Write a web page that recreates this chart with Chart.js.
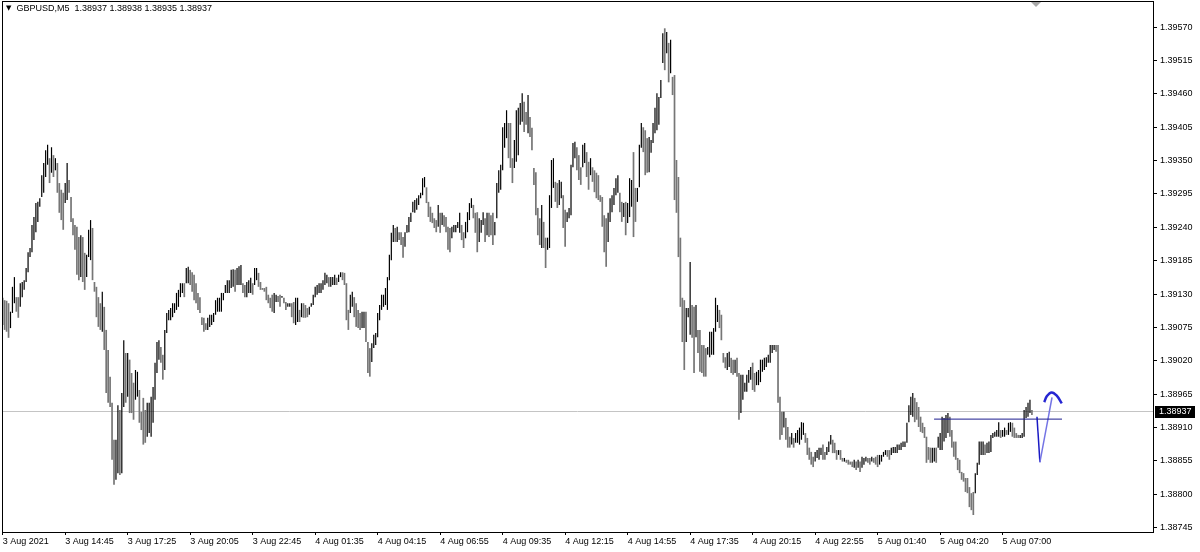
<!DOCTYPE html>
<html><head><meta charset="utf-8">
<script src="https://cdn.jsdelivr.net/npm/chart.js@4.4.1/dist/chart.umd.min.js"></script>
<style>
html,body{margin:0;padding:0;background:#fff;overflow:hidden}
#wrap{position:relative;width:1200px;height:552px}
#title{position:absolute;left:6px;top:3px;font:9px "Liberation Sans",Arial,sans-serif;color:#000;white-space:pre;pointer-events:none}
#title .tri{font-size:7px;font-family:"DejaVu Sans",sans-serif;position:relative;top:-1px}
</style></head>
<body><div id="wrap"><canvas id="c" width="1200" height="552"></canvas>
<div id="title"><span class="tri">▼</span>  GBPUSD,M5  1.38937 1.38938 1.38935 1.38937</div></div>
<script>
// ---- data (GBPUSD M5, 5-minute bars) ----
const timeLabels = ['3 Aug 2021','3 Aug 14:45','3 Aug 17:25','3 Aug 20:05','3 Aug 22:45','4 Aug 01:35','4 Aug 04:15','4 Aug 06:55','4 Aug 09:35','4 Aug 12:15','4 Aug 14:55','4 Aug 17:35','4 Aug 20:15','4 Aug 22:55','5 Aug 01:40','5 Aug 04:20','5 Aug 07:00'];
const priceTicks = [1.38745,1.38800,1.38855,1.38910,1.38965,1.39020,1.39075,1.39130,1.39185,1.39240,1.39295,1.39350,1.39405,1.39460,1.39515,1.39570];
const currentPrice = 1.38937;

const highs = [
1.39124,1.39120,1.39119,1.39115,1.39101,1.39142,1.39158,1.39125,1.39125,1.39148,
1.39150,1.39153,1.39173,1.39199,1.39206,1.39244,1.39257,1.39280,1.39282,1.39288,
1.39326,1.39346,1.39367,1.39376,1.39354,1.39372,1.39359,1.39354,1.39346,1.39313,
1.39302,1.39297,1.39313,1.39346,1.39318,1.39290,1.39255,1.39244,1.39241,1.39224,
1.39227,1.39224,1.39198,1.39195,1.39236,1.39252,1.39239,
1.39150,1.39142,1.39125,1.39115,1.39134,1.39109,1.39071,1.39038,1.38994,1.38951,
1.38890,1.38890,1.38947,1.38939,1.38967,1.39054,1.39033,1.39033,1.39022,1.39000,
1.38984,1.39005,1.39002,1.38972,1.38936,1.38959,1.38939,1.38951,1.38951,1.38961,
1.38977,1.39017,1.39051,1.39054,1.39043,1.39030,1.39071,1.39099,1.39104,1.39107,
1.39115,1.39115,1.39132,1.39137,1.39148,1.39148,1.39148,1.39173,
1.39175,1.39170,1.39166,1.39162,1.39148,1.39132,1.39125,
1.39092,1.39091,1.39082,1.39091,1.39096,1.39096,1.39099,1.39120,1.39124,1.39124,
1.39132,1.39132,1.39145,1.39153,1.39153,1.39170,1.39171,1.39170,1.39173,1.39176,
1.39178,1.39148,1.39145,1.39150,1.39153,1.39157,1.39148,1.39173,1.39173,1.39165,
1.39150,1.39140,1.39140,1.39142,1.39129,1.39124,1.39129,1.39132,1.39129,1.39127,
1.39129,1.39127,1.39124,1.39117,1.39115,1.39115,1.39115,1.39117,1.39124,1.39124,
1.39104,1.39115,1.39115,1.39112,1.39107,1.39109,1.39115,1.39129,1.39142,1.39145,
1.39148,1.39148,1.39153,1.39165,1.39162,1.39158,1.39158,1.39158,1.39162,1.39157,
1.39162,1.39166,1.39166,1.39165,1.39148,1.39104,1.39129,1.39134,1.39125,1.39115,
1.39104,1.39099,1.39101,1.39101,1.39101,1.39051,1.39041,
1.39049,1.39063,1.39066,1.39099,1.39112,1.39129,1.39129,1.39140,1.39158,1.39195,1.39231,
1.39244,1.39239,1.39241,1.39232,1.39232,1.39224,1.39232,1.39244,1.39257,1.39264,
1.39282,1.39285,1.39288,1.39293,1.39297,1.39321,1.39323,1.39306,1.39282,1.39274,
1.39264,1.39255,1.39252,1.39277,1.39264,1.39264,1.39260,1.39257,1.39241,1.39239,
1.39241,1.39244,1.39244,1.39249,1.39264,1.39244,1.39232,1.39249,1.39265,1.39280,
1.39288,1.39277,1.39264,1.39265,1.39255,1.39252,1.39265,1.39255,1.39264,1.39264,
1.39260,1.39264,1.39249,1.39313,1.39334,1.39343,1.39405,1.39412,1.39433,1.39412,
1.39412,1.39354,1.39384,1.39433,1.39437,1.39445,1.39461,1.39447,1.39430,1.39458,
1.39422,1.39404,1.39338,1.39331,1.39272,1.39255,1.39277,1.39249,1.39223,1.39223,
1.39293,1.39351,1.39354,1.39315,1.39313,1.39318,1.39315,1.39293,1.39269,1.39265,
1.39272,1.39343,1.39379,1.39381,1.39372,1.39359,1.39339,1.39376,1.39379,1.39364,
1.39348,1.39354,1.39339,1.39334,1.39330,1.39326,1.39293,1.39290,1.39260,1.39255,
1.39264,1.39288,
1.39293,1.39305,1.39321,1.39326,
1.39297,1.39282,1.39280,1.39282,1.39280,1.39321,1.39318,1.39364,1.39305,1.39305,
1.39376,1.39412,1.39405,1.39400,1.39387,1.39389,1.39384,1.39412,1.39437,1.39461,
1.39455,1.39483,1.39560,1.39568,1.39562,1.39544,1.39549,1.39488,1.39491,1.39351,
1.39323,1.39223,1.39124,1.39120,1.39107,1.39107,1.39183,1.39112,1.39109,1.39112,
1.39071,1.39071,1.39046,1.39046,1.39041,1.39043,1.39068,1.39068,1.39074,1.39124,
1.39112,1.39104,1.39096,1.39033,1.39026,1.39033,1.39035,1.39025,1.39022,1.39022,
1.39025,1.39000,1.38997,1.38997,1.38984,1.38997,1.39005,1.39010,1.39017,1.39000,
1.39002,1.39005,1.39022,1.39022,1.39025,1.39026,1.39030,1.39046,1.39046,1.39046,
1.39046,
1.39046,1.38961,
1.38936,1.38936,1.38926,1.38911,1.38895,1.38901,1.38893,1.38901,1.38906,1.38910,
1.38919,1.38918,1.38901,1.38893,1.38877,1.38870,1.38862,1.38870,1.38873,1.38877,
1.38877,1.38882,1.38870,1.38878,1.38887,1.38898,1.38890,1.38885,1.38873,1.38873,
1.38873,1.38860,1.38860,1.38857,1.38857,1.38854,1.38854,1.38857,1.38854,1.38857,
1.38854,1.38862,1.38860,1.38862,1.38860,1.38860,1.38862,1.38860,1.38862,1.38865,
1.38865,1.38865,1.38870,1.38873,1.38873,1.38873,1.38877,1.38878,1.38878,1.38882,
1.38882,1.38885,1.38887,1.38887,1.38918,1.38947,1.38961,1.38967,1.38959,1.38952,
1.38944,1.38928,1.38918,1.38911,1.38895,1.38878,1.38877,1.38877,1.38877,1.38877,
1.38895,1.38901,1.38928,1.38926,1.38931,1.38934,1.38928,1.38906,1.38887,1.38887,
1.38860,1.38857,1.38837,1.38835,1.38827,1.38827,1.38812,1.38802,1.38804,1.38835,
1.38852,1.38887,1.38887,1.38887,1.38882,1.38885,1.38887,1.38898,1.38901,1.38903,
1.38906,1.38919,1.38906,1.38906,1.38910,1.38906,1.38918,1.38919,1.38918,1.38910,
1.38901,1.38898,1.38898,1.38901,1.38939,1.38944,1.38951,1.38956,1.38939
];

const lows = [
1.39079,1.39071,1.39068,1.39058,1.39074,1.39099,1.39115,1.39101,1.39091,1.39109,
1.39125,1.39137,1.39150,1.39166,1.39191,1.39199,1.39219,1.39232,1.39249,1.39274,
1.39290,1.39297,1.39323,1.39343,1.39313,1.39330,1.39323,1.39334,1.39297,1.39264,
1.39252,1.39236,1.39280,1.39285,1.39297,1.39249,1.39227,1.39203,1.39162,1.39153,
1.39158,1.39150,1.39137,1.39158,1.39191,1.39186,1.39153,
1.39134,1.39092,1.39076,1.39071,1.39068,1.39038,1.38967,1.38951,1.38944,1.38857,
1.38816,1.38824,1.38835,1.38832,1.38835,1.38944,1.38951,1.38961,1.38934,1.38934,
1.38923,1.38956,1.38961,1.38918,1.38906,1.38882,1.38885,1.38895,1.38901,1.38895,
1.38918,1.38956,1.39000,1.39022,1.39017,1.38989,1.39005,1.39066,1.39087,1.39087,
1.39092,1.39099,1.39104,1.39109,1.39125,1.39132,1.39125,1.39148,
1.39148,1.39145,1.39134,1.39120,1.39115,1.39104,1.39099,
1.39079,1.39068,1.39071,1.39071,1.39076,1.39079,1.39084,1.39096,1.39101,1.39101,
1.39101,1.39120,1.39132,1.39132,1.39132,1.39140,1.39142,1.39134,1.39145,1.39145,
1.39145,1.39132,1.39125,1.39125,1.39132,1.39132,1.39129,1.39145,1.39153,1.39142,
1.39137,1.39137,1.39134,1.39120,1.39115,1.39107,1.39101,1.39099,1.39117,1.39117,
1.39109,1.39124,1.39115,1.39104,1.39109,1.39109,1.39092,1.39082,1.39079,1.39084,
1.39084,1.39092,1.39091,1.39091,1.39092,1.39096,1.39109,1.39112,1.39125,1.39129,
1.39132,1.39132,1.39137,1.39145,1.39148,1.39142,1.39142,1.39145,1.39145,1.39145,
1.39150,1.39158,1.39153,1.39145,1.39087,1.39071,1.39099,1.39109,1.39092,1.39076,
1.39074,1.39071,1.39074,1.39074,1.39051,1.39000,1.38994,
1.39018,1.39041,1.39046,1.39059,1.39087,1.39104,1.39109,1.39112,1.39104,1.39153,1.39186,
1.39216,1.39216,1.39216,1.39219,1.39211,1.39190,1.39208,1.39231,1.39232,1.39249,
1.39265,1.39264,1.39269,1.39277,1.39288,1.39293,1.39306,1.39280,1.39257,1.39249,
1.39247,1.39239,1.39232,1.39241,1.39231,1.39244,1.39241,1.39232,1.39203,1.39199,
1.39222,1.39232,1.39232,1.39239,1.39231,1.39219,1.39206,1.39222,1.39232,1.39252,
1.39272,1.39255,1.39231,1.39199,1.39216,1.39231,1.39244,1.39216,1.39227,1.39224,
1.39227,1.39211,1.39227,1.39255,1.39297,1.39302,1.39334,1.39371,1.39387,1.39354,
1.39338,1.39313,1.39338,1.39348,1.39359,1.39409,1.39414,1.39397,1.39409,1.39395,
1.39389,1.39367,1.39310,1.39260,1.39227,1.39211,1.39206,1.39206,1.39173,1.39203,
1.39206,1.39272,1.39305,1.39282,1.39272,1.39277,1.39288,1.39239,1.39208,1.39249,
1.39255,1.39260,1.39339,1.39354,1.39334,1.39318,1.39310,1.39339,1.39346,1.39323,
1.39302,1.39326,1.39315,1.39298,1.39288,1.39285,1.39282,1.39241,1.39199,1.39175,
1.39216,1.39249,
1.39265,1.39277,1.39293,1.39297,
1.39265,1.39249,1.39257,1.39227,1.39247,1.39257,1.39274,1.39224,1.39249,1.39282,
1.39306,1.39371,1.39364,1.39326,1.39330,1.39331,1.39363,1.39379,1.39395,1.39400,
1.39409,1.39453,1.39511,1.39499,1.39527,1.39479,1.39494,1.39458,1.39285,1.39264,
1.39191,1.39109,1.39051,1.39005,1.39051,1.39092,1.39063,1.39058,1.39000,1.39059,
1.39033,1.39002,1.39000,1.38994,1.38994,1.39030,1.39026,1.39030,1.39030,1.39068,
1.39084,1.39074,1.39054,1.39017,1.39008,1.39005,1.39010,1.39000,1.38997,1.39000,
1.38994,1.38923,1.38934,1.38956,1.38969,1.38969,1.38984,1.38989,1.38972,1.38969,
1.38980,1.38980,1.38985,1.39002,1.39005,1.39010,1.39017,1.39017,1.39033,1.39038,
1.39035,
1.38951,1.38890,
1.38898,1.38910,1.38890,1.38877,1.38877,1.38882,1.38877,1.38885,1.38885,1.38882,
1.38890,1.38898,1.38885,1.38865,1.38857,1.38849,1.38845,1.38854,1.38860,1.38857,
1.38865,1.38857,1.38857,1.38865,1.38870,1.38882,1.38868,1.38868,1.38857,1.38865,
1.38857,1.38854,1.38854,1.38852,1.38849,1.38849,1.38845,1.38844,1.38840,1.38844,
1.38837,1.38844,1.38849,1.38854,1.38852,1.38849,1.38854,1.38852,1.38849,1.38845,
1.38849,1.38854,1.38862,1.38865,1.38862,1.38857,1.38865,1.38868,1.38868,1.38868,
1.38873,1.38873,1.38878,1.38878,1.38885,1.38919,1.38931,1.38928,1.38919,1.38923,
1.38911,1.38903,1.38901,1.38893,1.38852,1.38857,1.38852,1.38852,1.38854,1.38852,
1.38877,1.38873,1.38873,1.38887,1.38893,1.38901,1.38895,1.38877,1.38862,1.38857,
1.38840,1.38835,1.38824,1.38821,1.38804,1.38802,1.38779,1.38774,1.38766,1.38802,
1.38832,1.38849,1.38865,1.38865,1.38865,1.38868,1.38868,1.38870,1.38893,1.38895,
1.38895,1.38895,1.38893,1.38895,1.38895,1.38898,1.38898,1.38903,1.38895,1.38893,
1.38893,1.38893,1.38893,1.38893,1.38895,1.38926,1.38928,1.38934,1.38931
];

// hand-drawn analysis objects (x in bar index units, y in price)
const levelX = [476.9, 542.4];
const levelY = [1.38924, 1.38924];
const zigX = [529.6, 531.1, 537.3];
const zigY = [1.38928, 1.38853, 1.38960];
const arcX = [533.3, 534.7, 537.1, 539.6, 542.3];
const arcY = [1.38952, 1.38962, 1.38968, 1.38963, 1.38950];
const shiftMarkerX = 529.1;

// ---- chart ----
const FONT = {family: 'Liberation Sans', size: 9};
const isDown = highs.map((h, i) => i > 0 && (h + lows[i]) < (highs[i - 1] + lows[i - 1]));
const upBars = [], downBars = [];
highs.forEach((h, i) => (isDown[i] ? downBars : upBars).push({x: i, y: [lows[i], h]}));

const mtPlugin = {
  id: 'mt',
  beforeDatasetsDraw(chart) {
    const {ctx, chartArea: a, scales: {y}} = chart;
    const py = Math.round(y.getPixelForValue(currentPrice)) + 0.5;
    ctx.save();
    ctx.strokeStyle = '#c4c4c4';
    ctx.lineWidth = 1;
    ctx.beginPath(); ctx.moveTo(a.left, py); ctx.lineTo(a.right, py); ctx.stroke();
    ctx.restore();
  },
  afterDraw(chart) {
    const {ctx, chartArea: a, scales: {x, y}} = chart;
    ctx.save();
    ctx.strokeStyle = '#000'; ctx.lineWidth = 1;
    ctx.strokeRect(a.left + 0.5, a.top + 0.5, a.right - a.left, a.bottom - a.top);
    const py = Math.round(y.getPixelForValue(currentPrice));
    ctx.fillStyle = '#000';
    ctx.fillRect(a.right + 2, py - 5, 40, 12);
    ctx.fillStyle = '#fff';
    ctx.font = '9px "Liberation Sans"';
    ctx.textBaseline = 'middle'; ctx.textAlign = 'left';
    ctx.fillText(currentPrice.toFixed(5), a.right + 6, py + 1);
    const mx = x.getPixelForValue(shiftMarkerX);
    ctx.fillStyle = '#a8a8a8';
    ctx.beginPath();
    ctx.moveTo(mx - 5, a.top + 1); ctx.lineTo(mx + 5, a.top + 1); ctx.lineTo(mx, a.top + 6);
    ctx.closePath(); ctx.fill();
    ctx.restore();
  }
};

new Chart(document.getElementById('c'), {
  type: 'bar',
  data: {
    datasets: [
      {type: 'line', data: levelX.map((v, i) => ({x: v, y: levelY[i]})), borderColor: '#1c1c8e', borderWidth: 1, pointRadius: 0, order: 1},
      {type: 'line', data: zigX.map((v, i) => ({x: v, y: zigY[i]})), borderColor: '#1515c0', borderWidth: 1.5, pointRadius: 0, order: 1,
        segment: {borderColor: c => c.p0DataIndex === 0 ? '#1a1ac4' : '#7474e4'}},
      {type: 'line', data: arcX.map((v, i) => ({x: v, y: arcY[i]})), borderColor: '#2626d2', borderWidth: 2.5, pointRadius: 0, tension: 0.4, order: 1},
      {type: 'bar', data: downBars, backgroundColor: '#767676', borderWidth: 0, barThickness: 1.7, inflateAmount: 0, grouped: false, order: 3},
      {type: 'bar', data: upBars, backgroundColor: '#000000', borderWidth: 0, barThickness: 1.2, inflateAmount: 0, grouped: false, order: 2}
    ]
  },
  options: {
    responsive: false,
    animation: false,
    events: [],
    layout: {padding: {left: 2, top: 1, right: 0, bottom: 0}},
    plugins: {legend: {display: false}, tooltip: {enabled: false}},
    scales: {
      x: {
        type: 'linear', min: -0.35, max: 589, offset: false,
        afterBuildTicks: s => { s.ticks = timeLabels.map((_, k) => ({value: k * 32})); },
        afterFit: s => { s.height = 20; s.paddingLeft = 0; s.paddingRight = 0; },
        grid: {drawOnChartArea: false, drawTicks: true, tickLength: 3, tickColor: '#000', offset: false},
        border: {display: false},
        ticks: {autoSkip: false, maxRotation: 0, minRotation: 0, align: 'start', padding: 1, color: '#000', font: FONT,
          callback: (v, i) => timeLabels[i]}
      },
      y: {
        type: 'linear', position: 'right', min: 1.38738, max: 1.39613,
        afterBuildTicks: s => { s.ticks = priceTicks.map(v => ({value: v})); },
        afterFit: s => { s.width = 47; s.paddingTop = 0; s.paddingBottom = 0; },
        grid: {drawOnChartArea: false, drawTicks: true, tickLength: 4, tickColor: '#000'},
        border: {display: false},
        ticks: {autoSkip: false, padding: 3, color: '#000', font: FONT, callback: v => Number(v).toFixed(5)}
      }
    }
  },
  plugins: [mtPlugin]
});
</script>
</body></html>
